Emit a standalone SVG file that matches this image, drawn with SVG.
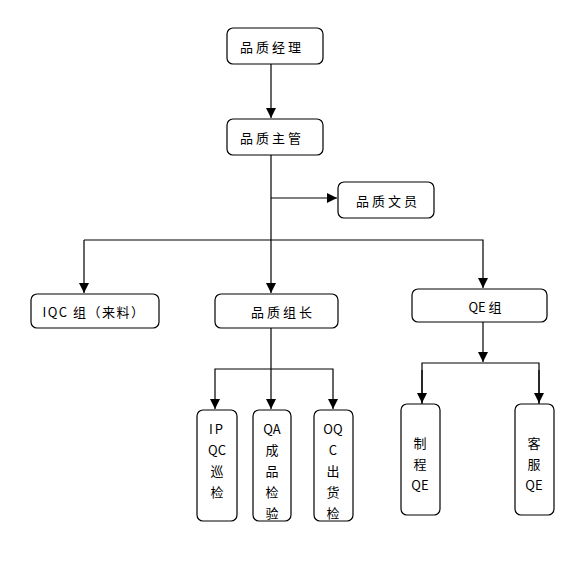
<svg xmlns="http://www.w3.org/2000/svg" width="582" height="585" viewBox="0 0 582 585">
<defs>
<marker id="arr" viewBox="0 0 10 10" refX="10" refY="5" markerWidth="10" markerHeight="10" markerUnits="userSpaceOnUse" orient="auto">
<path d="M0,0 L10,5 L0,10 z" fill="#000"/>
</marker>
<style>
.box{fill:#fff;stroke:#000;stroke-width:1.2}
.t{font-family:"Noto Sans CJK SC","Liberation Sans",sans-serif;font-size:13px;fill:#000;text-anchor:middle;dominant-baseline:central}
.sp{letter-spacing:3px}
.ln{fill:none;stroke:#000;stroke-width:1.2}
</style>
</defs>
<rect width="582" height="585" fill="#fff"/>
<g id="connectors">
<path class="ln" d="M271,64 V118" marker-end="url(#arr)"/>
<path class="ln" d="M271,155 V293" marker-end="url(#arr)"/>
<path class="ln" d="M271,198 H337" marker-end="url(#arr)"/>
<path class="ln" d="M84,240 V293" marker-end="url(#arr)"/>
<path class="ln" d="M84,240 H483 V288" marker-end="url(#arr)"/>
<path class="ln" d="M271,328 V409" marker-end="url(#arr)"/>
<path class="ln" d="M271,369 H215 V409" marker-end="url(#arr)"/>
<path class="ln" d="M271,369 H333 V409" marker-end="url(#arr)"/>
<path class="ln" d="M483,322 V362" marker-end="url(#arr)"/>
<path class="ln" d="M422,404 V363 H539 V404"/>
<path class="ln" d="M422,370 V403" marker-end="url(#arr)"/>
<path class="ln" d="M539,370 V403" marker-end="url(#arr)"/>
</g>
<g id="n1"><rect class="box" x="227" y="28" width="96" height="36" rx="6"/><text class="t sp" x="272" y="46">品质经理</text></g>
<g id="n2"><rect class="box" x="227" y="119" width="96" height="36" rx="6"/><text class="t sp" x="272" y="137">品质主管</text></g>
<g id="n3"><rect class="box" x="338" y="182" width="96" height="36" rx="6"/><text class="t sp" x="388" y="200">品质文员</text></g>
<g id="n4"><rect class="box" x="31" y="294" width="128" height="34" rx="6"/><text class="t" x="94" y="311" style="letter-spacing:1.5px">IQC 组（来料）</text></g>
<g id="n5"><rect class="box" x="215" y="294" width="123" height="34" rx="6"/><text class="t sp" x="283" y="311">品质组长</text></g>
<g id="n6"><rect class="box" x="412" y="289" width="135" height="33" rx="6"/><text class="t" x="485" y="306">QE 组</text></g>
<g id="n7"><rect class="box" x="197" y="410" width="40" height="111" rx="6"/>
<text class="t" x="217" y="428" style="letter-spacing:2px">IP</text><text class="t" x="217" y="449">QC</text><text class="t" x="217" y="470">巡</text><text class="t" x="217" y="491">检</text></g>
<g id="n8"><rect class="box" x="253" y="410" width="38" height="111" rx="6"/>
<text class="t" x="272" y="428">QA</text><text class="t" x="272" y="449">成</text><text class="t" x="272" y="470">品</text><text class="t" x="272" y="491">检</text><text class="t" x="272" y="512">验</text></g>
<g id="n9"><rect class="box" x="314" y="410" width="39" height="111" rx="6"/>
<text class="t" x="333" y="428">OQ</text><text class="t" x="333" y="449">C</text><text class="t" x="333" y="470">出</text><text class="t" x="333" y="491">货</text><text class="t" x="333" y="512">检</text></g>
<g id="n10"><rect class="box" x="401" y="404" width="39" height="111" rx="6"/>
<text class="t" x="420" y="442">制</text><text class="t" x="420" y="463">程</text><text class="t" x="420" y="484">QE</text></g>
<g id="n11"><rect class="box" x="515" y="404" width="39" height="111" rx="6"/>
<text class="t" x="534" y="442">客</text><text class="t" x="534" y="463">服</text><text class="t" x="534" y="484">QE</text></g>
</svg>
